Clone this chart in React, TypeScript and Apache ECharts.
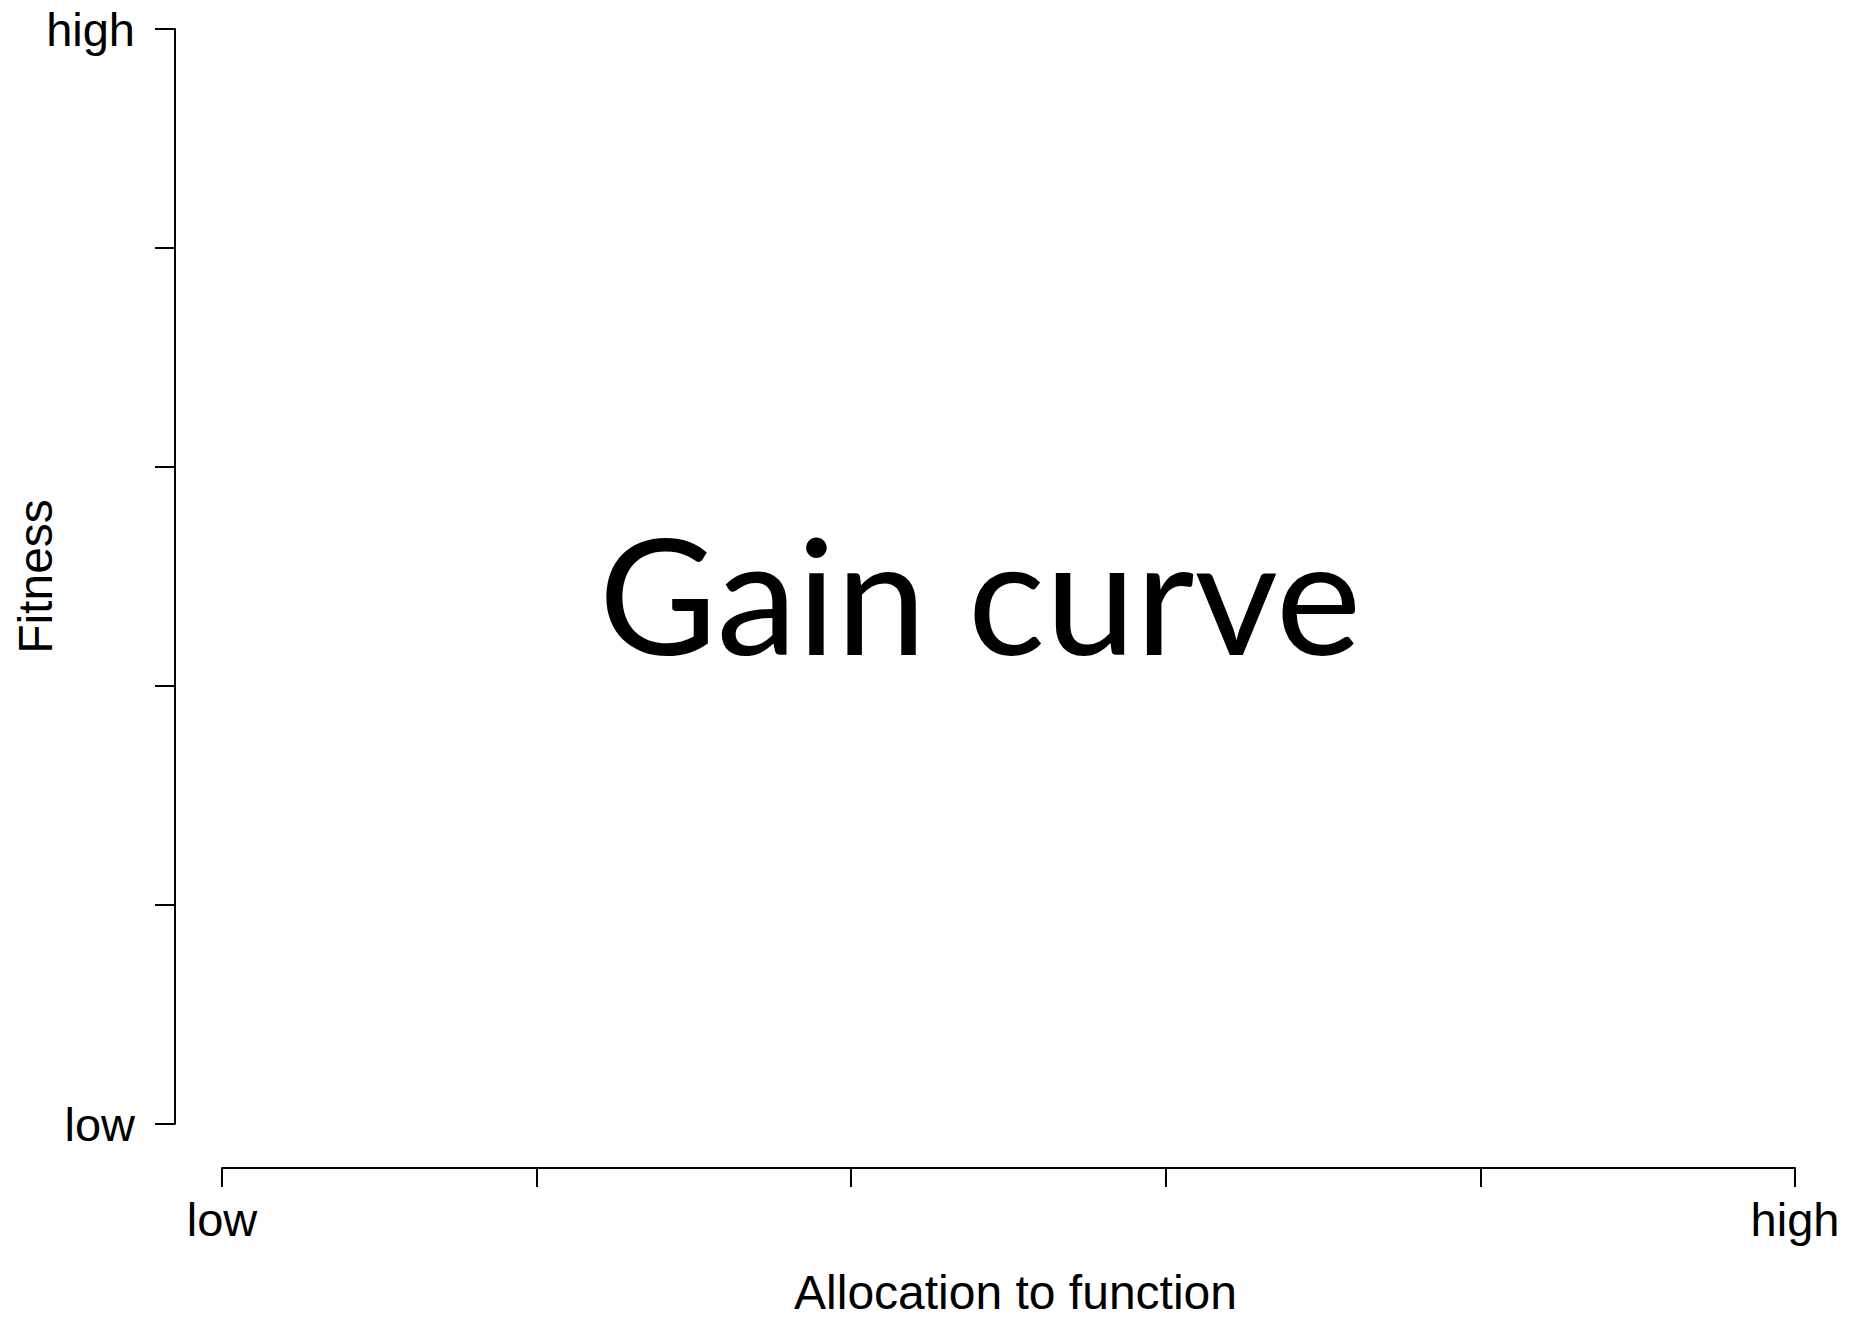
import React, { useEffect, useRef } from "react";
import * as echarts from "echarts";

// Axis ticks (0 = low, 1 = high) and their labels
const xTickValues = [0, 0.2, 0.4, 0.6, 0.8, 1];
const xTickLabels = ["low", "", "", "", "", "high"];
const yTickValues = [0, 0.2, 0.4, 0.6, 0.8, 1];
const yTickLabels = ["low", "", "", "", "", "high"];
const xTitle = "Allocation to function";
const yTitle = "Fitness";
const annotation = "Gain curve";

const FONT = "'Liberation Sans', Arial, Helvetica, sans-serif";

function labelFor(values: number[], labels: string[]) {
  return (v: number) => {
    let best = 0;
    for (let i = 0; i < values.length; i++) {
      if (Math.abs(values[i] - v) < Math.abs(values[best] - v)) best = i;
    }
    return Math.abs(values[best] - v) < 1e-6 ? labels[best] : "";
  };
}

export default function App() {
  const ref = useRef<HTMLDivElement>(null);
  useEffect(() => {
    if (!ref.current) return;
    const chart = echarts.init(ref.current, null, { renderer: "svg" });
    const lineStyle = { color: "#000", width: 2 };
    chart.setOption({
      animation: false,
      backgroundColor: "#fff",
      grid: { left: 222, right: 64, top: 29, bottom: 196, containLabel: false, outerBoundsMode: "none" },
      xAxis: {
        type: "value",
        min: xTickValues[0],
        max: xTickValues[xTickValues.length - 1],
        interval: xTickValues[1] - xTickValues[0],
        offset: 44,
        axisLine: { show: true, onZero: false, lineStyle },
        axisTick: { show: true, length: 19, lineStyle },
        splitLine: { show: false },
        axisLabel: {
          margin: 28,
          fontSize: 47,
          color: "#000",
          fontFamily: FONT,
          showMinLabel: true,
          showMaxLabel: true,
          formatter: labelFor(xTickValues, xTickLabels),
        },
        name: xTitle,
        nameLocation: "middle",
        nameGap: 104,
        nameMoveOverlap: false,
        nameTextStyle: { fontSize: 48, lineHeight: 40, color: "#000", fontFamily: FONT, padding: [0, 0, 0, 14] },
      },
      yAxis: {
        type: "value",
        min: yTickValues[0],
        max: yTickValues[yTickValues.length - 1],
        interval: yTickValues[1] - yTickValues[0],
        offset: 47,
        axisLine: { show: true, onZero: false, lineStyle },
        axisTick: { show: true, length: 20, lineStyle },
        splitLine: { show: false },
        axisLabel: {
          margin: 40,
          fontSize: 47,
          color: "#000",
          fontFamily: FONT,
          showMinLabel: true,
          showMaxLabel: true,
          formatter: labelFor(yTickValues, yTickLabels),
        },
        name: yTitle,
        nameLocation: "middle",
        nameGap: 116,
        nameRotate: 90,
        nameMoveOverlap: false,
        nameTextStyle: { fontSize: 48, color: "#000", fontFamily: FONT },
      },
      series: [{ type: "line", data: [], showSymbol: false }],
      graphic: [
        {
          type: "text",
          x: 980,
          y: 592,
          style: {
            text: annotation,
            fontSize: 162,
            fontFamily: "Lato, 'Open Sans', sans-serif",
            align: "center",
            verticalAlign: "middle",
            fill: "#000",
          },
        },
      ],
    });
    return () => chart.dispose();
  }, []);
  return (
    <div
      ref={ref}
      style={{ position: "absolute", left: 0, top: 0, width: 1859, height: 1320, background: "#fff" }}
    />
  );
}
